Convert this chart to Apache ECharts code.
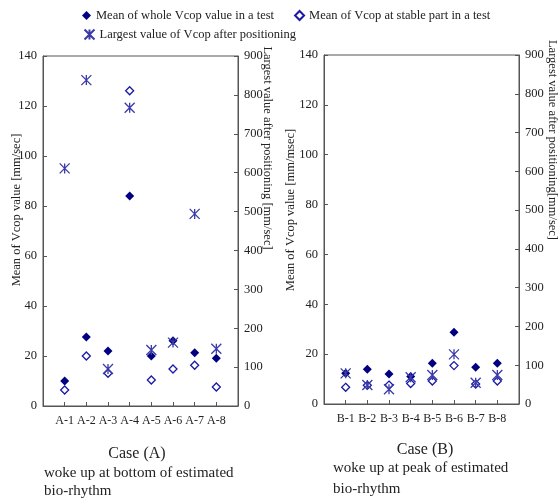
<!DOCTYPE html>
<html>
<head>
<meta charset="utf-8">
<script src="https://cdn.jsdelivr.net/npm/echarts@6/dist/echarts.min.js"></script>
<style>
  html, body { margin: 0; padding: 0; background: #fff; }
  #chart { width: 559px; height: 499px; }
</style>
</head>
<body>
<div id="chart"></div>
<script>
  // categories (blank slot at each end so the points sit one step in from the frame)
  var catsA = ['', 'A-1', 'A-2', 'A-3', 'A-4', 'A-5', 'A-6', 'A-7', 'A-8', ' '];
  var catsB = ['', 'B-1', 'B-2', 'B-3', 'B-4', 'B-5', 'B-6', 'B-7', 'B-8', ' '];

  // case (A) values
  var wholeA = [10.0, 27.6, 22.0, 84.0, 20.0, 26.1, 21.3, 19.1];
  var stableA = [6.4, 20.0, 13.1, 126.1, 10.4, 14.8, 16.3, 7.6];
  var largestA = [611, 838, 95, 767, 144, 163, 494, 147];

  // case (B) values
  var wholeB = [12.3, 13.9, 12.0, 11.0, 16.3, 28.8, 14.7, 16.3];
  var stableB = [6.7, 7.5, 7.6, 8.2, 9.2, 15.4, 8.0, 9.2];
  var largestB = [79, 49, 38, 69, 75, 128, 55, 75];

  var leftTicks = { min: 0, max: 140, interval: 20 };
  var rightTicks = { min: 0, max: 900, interval: 100 };

  var names = [
    'Mean of whole Vcop value in a test',
    'Mean of Vcop at stable part in a test',
    'Largest value of Vcop after positioning'
  ];

  var font = 'Liberation Serif';
  var axisCol = '#555';
  var txtCol = '#222';
  var crossPath = 'path://M0,0L10,10M10,0L0,10M5,0L5,10';

  function pts(vals) {
    return vals.map(function (v, i) { return [i + 1, v]; });
  }

  function xAxisFor(cats, gi) {
    return {
      type: 'category', gridIndex: gi, data: cats, boundaryGap: false,
      axisLine: { lineStyle: { color: axisCol } },
      axisTick: { inside: true, length: 4, lineStyle: { color: axisCol } },
      axisLabel: { interval: 0, color: txtCol, fontFamily: font, fontSize: 12, margin: 9 },
      splitLine: { show: false }
    };
  }

  function yAxisFor(ticks, gi, pos) {
    return {
      type: 'value', gridIndex: gi, position: pos,
      min: ticks.min, max: ticks.max, interval: ticks.interval,
      axisLine: { show: true, lineStyle: { color: axisCol } },
      axisTick: { show: true, inside: true, length: 4, lineStyle: { color: axisCol } },
      axisLabel: { color: txtCol, fontFamily: font, fontSize: 12.5, margin: 6 },
      splitLine: { show: false }
    };
  }

  function seriesFor(w, s, l, gi) {
    return [
      {
        name: names[0], type: 'scatter', xAxisIndex: gi, yAxisIndex: gi * 2,
        symbol: 'diamond', symbolSize: 9,
        itemStyle: { color: '#000080', opacity: 1 },
        data: pts(w)
      },
      {
        name: names[1], type: 'scatter', xAxisIndex: gi, yAxisIndex: gi * 2,
        symbol: 'diamond', symbolSize: 8,
        itemStyle: { color: '#fff', borderColor: '#1a1aa6', borderWidth: 1.3, opacity: 1 },
        data: pts(s)
      },
      {
        name: names[2], type: 'scatter', xAxisIndex: gi, yAxisIndex: gi * 2 + 1,
        symbol: crossPath, symbolSize: 10,
        itemStyle: { color: 'none', borderColor: '#3a3aa8', borderWidth: 1.3, opacity: 1 },
        data: pts(l)
      }
    ];
  }

  function vText(text, x, y, rot) {
    return {
      type: 'text', x: x, y: y, rotation: rot,
      style: { text: text, fill: txtCol, font: '12.5px "' + font + '"', align: 'center', verticalAlign: 'middle' }
    };
  }

  function hText(text, x, y, size, align) {
    return {
      type: 'text', x: x, y: y,
      style: { text: text, fill: txtCol, font: size + 'px "' + font + '"', align: align, verticalAlign: 'middle' }
    };
  }

  var chart = echarts.init(document.getElementById('chart'));

  var legendText = { fontFamily: font, fontSize: 12.5, color: txtCol };

  var option = {
    animation: false,
    backgroundColor: '#fff',
    textStyle: { fontFamily: font },
    legend: [
      {
        data: [names[0], names[1]], left: 77, top: 4,
        itemWidth: 9, itemHeight: 9, itemGap: 20,
        textStyle: legendText
      },
      {
        data: [names[2]], left: 77, top: 22,
        itemWidth: 10, itemHeight: 10,
        textStyle: legendText
      }
    ],
    grid: [
      { left: 43, top: 56, width: 195, height: 350, show: true, borderColor: axisCol, borderWidth: 1, containLabel: false },
      { left: 324, top: 55, width: 195, height: 349, show: true, borderColor: axisCol, borderWidth: 1, containLabel: false }
    ],
    xAxis: [xAxisFor(catsA, 0), xAxisFor(catsB, 1)],
    yAxis: [
      yAxisFor(leftTicks, 0, 'left'),
      yAxisFor(rightTicks, 0, 'right'),
      yAxisFor(leftTicks, 1, 'left'),
      yAxisFor(rightTicks, 1, 'right')
    ],
    series: seriesFor(wholeA, stableA, largestA, 0).concat(seriesFor(wholeB, stableB, largestB, 1)),
    graphic: [
      vText('Mean of Vcop value [mm/sec]', 17, 210, Math.PI / 2),
      vText('Largest value after positioning [mm/sec]', 267, 148, -Math.PI / 2),
      vText('Mean of Vcop value [mm/msec]', 291, 210, Math.PI / 2),
      vText('Largest value after positioning[mm/sec]', 552, 140, -Math.PI / 2),
      hText('Case (A)', 137, 454, 16, 'center'),
      hText('woke up at bottom of estimated', 44, 473, 15, 'left'),
      hText('bio-rhythm', 44, 491, 15, 'left'),
      hText('Case (B)', 425, 450, 16, 'center'),
      hText('woke up at peak of estimated', 333, 468, 15, 'left'),
      hText('bio-rhythm', 333, 489, 15, 'left')
    ]
  };

  chart.setOption(option);
</script>
</body>
</html>
